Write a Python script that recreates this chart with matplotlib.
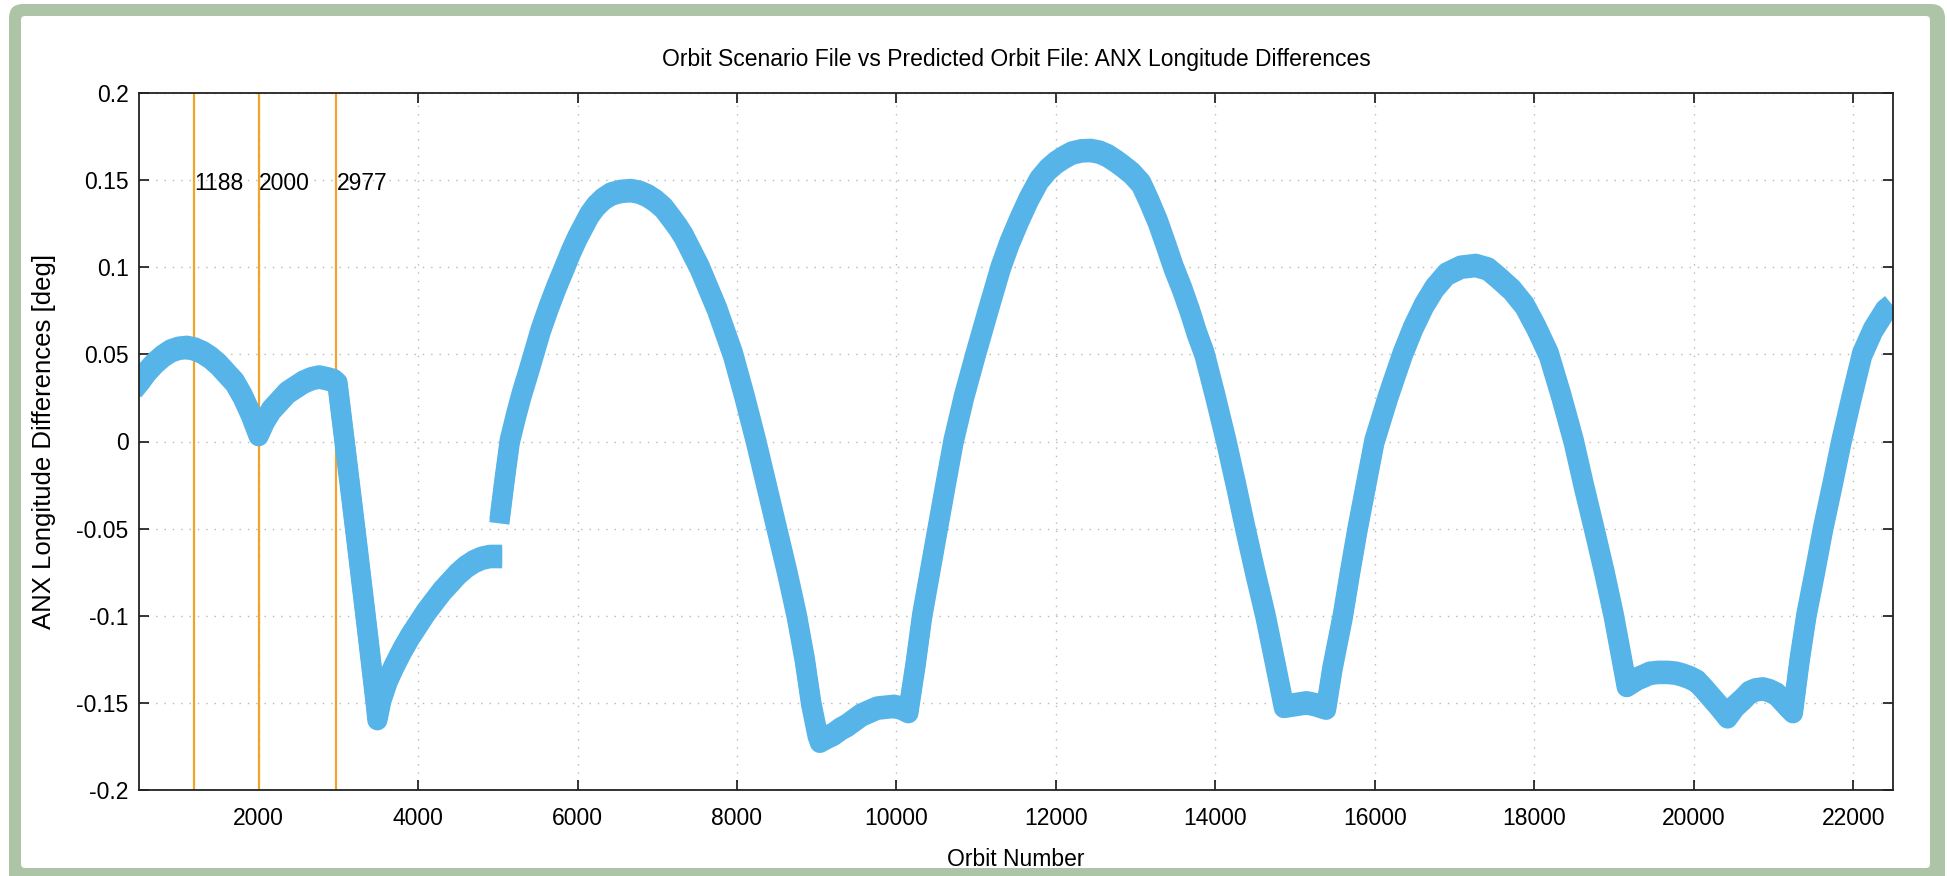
import matplotlib
matplotlib.use("Agg")
import matplotlib.pyplot as plt
from matplotlib.patches import FancyBboxPatch
from matplotlib.transforms import IdentityTransform
from matplotlib.ticker import FixedLocator, FixedFormatter
import numpy as np

plt.rcParams['font.family'] = ['Liberation Sans', 'DejaVu Sans']

# ---------------- data ----------------
title = "Orbit Scenario File vs Predicted Orbit File: ANX Longitude Differences"
xlabel = "Orbit Number"
ylabel = "ANX Longitude Differences [deg]"

# first segment (orbit number, difference in deg)
seg1_orbit = [430, 520, 600, 700, 800, 900, 1000, 1100, 1200, 1300, 1400, 1500, 1600,
              1700, 1800, 1900, 2000, 2080, 2160, 2260, 2360, 2460, 2560, 2660, 2760,
              2860, 2940, 2990, 3100, 3230, 3360, 3470, 3490, 3540, 3620, 3700, 3800,
              3900, 4000, 4100, 4200, 4300, 4400, 4500, 4600, 4700, 4800, 4900, 5055]
seg1_diff = [0.030, 0.035, 0.040, 0.045, 0.049, 0.052, 0.0535, 0.054, 0.053, 0.051,
             0.048, 0.044, 0.039, 0.034, 0.026, 0.016, 0.004, 0.012, 0.018, 0.023,
             0.028, 0.031, 0.034, 0.036, 0.037, 0.036, 0.035, 0.033, -0.008, -0.057,
             -0.107, -0.150, -0.159, -0.148, -0.137, -0.129, -0.120, -0.112, -0.105,
             -0.098, -0.092, -0.086, -0.081, -0.076, -0.072, -0.069, -0.067, -0.066,
             -0.066]

# second segment
seg2_orbit = [5020, 5080, 5150, 5230, 5300, 5380, 5450, 5540, 5640, 5740, 5840, 5920,
              6000, 6080, 6150, 6230, 6320, 6420, 6540, 6670, 6780, 6880, 6980, 7080,
              7180, 7260, 7330, 7430, 7530, 7640, 7750, 7850, 7950, 8100, 8240, 8370,
              8500, 8630, 8750, 8850, 8930, 9010, 9040, 9120, 9210, 9300, 9380, 9470,
              9560, 9660, 9760, 9870, 9970, 10060, 10150, 10240, 10323, 10420, 10518,
              10616, 10716, 10850, 10994, 11150, 11310, 11420, 11540, 11660, 11790,
              11900, 12000, 12100, 12200, 12320, 12440, 12550, 12650, 12750, 12840,
              12950, 13069, 13170, 13280, 13380, 13476, 13580, 13680, 13770, 13866,
              14000, 14138, 14260, 14377, 14500, 14629, 14750, 14860, 15000, 15145,
              15250, 15390, 15470, 15600, 15690, 15785, 15890, 15995, 16170, 16349,
              16480, 16617, 16750, 16900, 17080, 17266, 17420, 17550, 17720, 17879,
              18030, 18183, 18340, 18496, 18620, 18752, 18880, 18998, 19100, 19160,
              19230, 19300, 19380, 19450, 19560, 19680, 19780, 19860, 19950, 20040,
              20130, 20219, 20320, 20425, 20520, 20622, 20700, 20780, 20868, 20950,
              21040, 21114, 21180, 21245, 21330, 21413, 21520, 21623, 21740, 21853,
              21980, 22113, 22250, 22400, 22480]
seg2_diff = [-0.046, -0.024, 0.000, 0.015, 0.027, 0.039, 0.050, 0.064, 0.077, 0.089,
             0.100, 0.109, 0.117, 0.124, 0.130, 0.135, 0.139, 0.142, 0.1435, 0.144,
             0.143, 0.141, 0.138, 0.134, 0.128, 0.123, 0.118, 0.109, 0.100, 0.088,
             0.076, 0.063, 0.050, 0.025, 0.000, -0.025, -0.050, -0.075, -0.100, -0.125,
             -0.150, -0.168, -0.172, -0.170, -0.168, -0.165, -0.163, -0.160, -0.157,
             -0.155, -0.153, -0.1525, -0.152, -0.153, -0.155, -0.128, -0.100, -0.075,
             -0.050, -0.025, 0.000, 0.026, 0.050, 0.075, 0.100, 0.114, 0.127, 0.139,
             0.150, 0.156, 0.160, 0.163, 0.1655, 0.1668, 0.167, 0.166, 0.164, 0.161,
             0.158, 0.154, 0.148, 0.138, 0.126, 0.113, 0.100, 0.088, 0.075, 0.062,
             0.050, 0.026, 0.000, -0.025, -0.050, -0.075, -0.100, -0.127, -0.152,
             -0.151, -0.150, -0.151, -0.153, -0.130, -0.100, -0.075, -0.050, -0.025,
             0.000, 0.026, 0.050, 0.065, 0.078, 0.088, 0.096, 0.100, 0.101, 0.099,
             0.094, 0.087, 0.078, 0.065, 0.050, 0.026, 0.000, -0.025, -0.050, -0.075,
             -0.100, -0.125, -0.140, -0.138, -0.136, -0.1345, -0.133, -0.1325, -0.1325,
             -0.133, -0.134, -0.1355, -0.1376, -0.142, -0.1467, -0.152, -0.158, -0.152,
             -0.1477, -0.144, -0.1425, -0.142, -0.143, -0.145, -0.1487, -0.152, -0.155,
             -0.125, -0.100, -0.075, -0.050, -0.025, 0.000, 0.025, 0.050, 0.064, 0.075,
             0.078]

marker_orbits = [1188, 2000, 2977]
marker_labels = ["1188", "2000", "2977"]
marker_label_y = 0.148

x_ticks = [2000, 4000, 6000, 8000, 10000, 12000, 14000, 16000, 18000, 20000, 22000]
x_tick_labels = ["2000", "4000", "6000", "8000", "10000", "12000", "14000", "16000",
                 "18000", "20000", "22000"]
y_ticks = [-0.2, -0.15, -0.1, -0.05, 0.0, 0.05, 0.1, 0.15, 0.2]
y_tick_labels = ["-0.2", "-0.15", "-0.1", "-0.05", "0", "0.05", "0.1", "0.15", "0.2"]
x_range = (500, 22500)
y_range = (-0.2, 0.2)

# ---------------- styling ----------------
W, H = 1947, 876
BLUE = "#56B4E9"
ORANGE = "#F0A428"
FRAME = "#adc4a7"
FS = 16.5

fig = plt.figure(figsize=(W / 100, H / 100), dpi=100)
fig.patch.set_facecolor("white")

# green rounded frame (display pixel coordinates)
outer = FancyBboxPatch((9, -20), 1936, 892,
                       boxstyle="round,pad=0,rounding_size=14",
                       fc=FRAME, ec="none", transform=IdentityTransform(), zorder=-10)
inner = FancyBboxPatch((21, 8), 1909, 852,
                       boxstyle="round,pad=0,rounding_size=4",
                       fc="white", ec="none", transform=IdentityTransform(), zorder=-9)
fig.add_artist(outer)
fig.add_artist(inner)

left, right, top, bottom = 139, 1893, 93, 790
ax = fig.add_axes([left / W, 1 - bottom / H, (right - left) / W, (bottom - top) / H])
ax.set_facecolor("white")

ax.set_xlim(*x_range)
ax.set_ylim(*y_range)

# grid
ax.grid(True, color="#b8b8b8", linestyle=(0, (1, 5)), linewidth=1.0)
ax.set_axisbelow(True)

# vertical marker lines
for xo, lab in zip(marker_orbits, marker_labels):
    ax.axvline(xo, color=ORANGE, lw=1.6, zorder=2)
    ax.text(xo, marker_label_y, lab, ha="left", va="center", fontsize=FS,
            color="black", zorder=4)

# data band (thick line, drawn twice with a slight vertical spread)
lw = 14.5
spread = 0.001
for xs, ys in ((seg1_orbit, seg1_diff), (seg2_orbit, seg2_diff)):
    xs = np.asarray(xs, float)
    ys = np.asarray(ys, float)
    for off in (-spread, spread):
        ax.plot(xs, ys + off, color=BLUE, lw=lw, solid_capstyle="butt",
                solid_joinstyle="round", zorder=3)

# ticks
ax.xaxis.set_major_locator(FixedLocator(x_ticks))
ax.xaxis.set_major_formatter(FixedFormatter(x_tick_labels))
ax.yaxis.set_major_locator(FixedLocator(y_ticks))
ax.yaxis.set_major_formatter(FixedFormatter(y_tick_labels))
ax.tick_params(axis="both", direction="in", length=7, width=1.1, color="black",
               top=True, right=True, labelsize=FS)
ax.tick_params(axis="x", pad=12)
ax.tick_params(axis="y", pad=7.5)
for s in ax.spines.values():
    s.set_linewidth(1.3)
    s.set_color("#222222")
    s.set_zorder(5)

# title and labels
cx = (left + right) / 2 / W
fig.text(cx, 1 - 66 / H, title, ha="center", va="baseline", fontsize=FS)
fig.text(cx, 1 - 866 / H, xlabel, ha="center", va="baseline", fontsize=FS)
fig.text(44 / W, 1 - (top + bottom) / 2 / H, ylabel, ha="center", va="center",
         rotation=90, fontsize=18.5)

fig.savefig("out.png", dpi=100)
